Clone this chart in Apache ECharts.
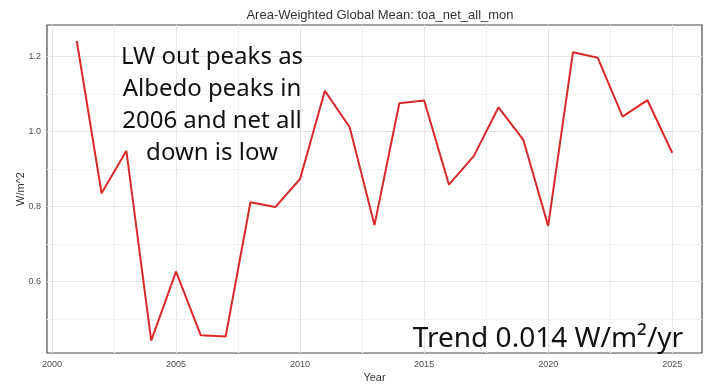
<!DOCTYPE html>
<html>
<head>
<meta charset="utf-8">
<script src="https://cdn.jsdelivr.net/npm/echarts@6/dist/echarts.min.js"></script>
<style>
html,body{margin:0;padding:0;background:#fff;}
#chart{width:705px;height:390px;}
</style>
</head>
<body>
<div id="chart"></div>
<script>
const years = [2001,2002,2003,2004,2005,2006,2007,2008,2009,2010,2011,2012,2013,2014,2015,2016,2017,2018,2019,2020,2021,2022,2023,2024,2025];
const values = [1.241,0.835,0.948,0.442,0.626,0.456,0.453,0.811,0.798,0.873,1.108,1.011,0.750,1.075,1.082,0.858,0.934,1.064,0.977,0.748,1.211,1.196,1.039,1.083,0.943];
const xTickLabels = [2000,2005,2010,2015,2020,2025];
const xMinorGrid = [2002.5,2007.5,2012.5,2017.5,2022.5];
const yTickLabels = [0.6,0.8,1.0,1.2];
const yMinorGrid = [0.5,0.7,0.9,1.1];

const chart = echarts.init(document.getElementById('chart'), null, {renderer:'canvas'});
const FONT = '"Liberation Sans", Arial, sans-serif';

const gridLines = [];
xTickLabels.forEach(v => gridLines.push({xAxis: v, lineStyle:{color:'#e6e6e6', width:1, type:'solid'}}));
xMinorGrid.forEach(v => gridLines.push({xAxis: v, lineStyle:{color:'#f1f1f1', width:1, type:'solid'}}));
yTickLabels.forEach(v => gridLines.push({yAxis: v, lineStyle:{color:'#e6e6e6', width:1, type:'solid'}}));
yMinorGrid.forEach(v => gridLines.push({yAxis: v, lineStyle:{color:'#f1f1f1', width:1, type:'solid'}}));

chart.setOption({
  animation:false,
  backgroundColor:'#ffffff',
  title:{
    text:'Area-Weighted Global Mean: toa_net_all_mon',
    left:375, top:4, textAlign:'center',
    textStyle:{fontFamily:FONT, fontSize:13, fontWeight:'normal', color:'#333333'}
  },
  grid:{left:47, right:3, top:25, bottom:37, show:true, outerBoundsMode:'none', containLabel:false, borderColor:'#4a4a4a', borderWidth:1.2, backgroundColor:'transparent'},
  xAxis:{
    type:'value', min:1999.8, max:2026.2,
    name:'Year', nameLocation:'middle', nameGap:19, nameMoveOverlap:false,
    nameTextStyle:{fontFamily:FONT, fontSize:11, color:'#333333'},
    axisLine:{show:false}, axisTick:{show:false}, splitLine:{show:false},
    axisLabel:{customValues:xTickLabels, fontFamily:FONT, fontSize:9, color:'#4d4d4d', margin:7, formatter: v => String(Math.round(v))}
  },
  yAxis:{
    type:'value', min:0.409, max:1.2835,
    name:'W/m^2', nameLocation:'middle', nameGap:21, nameRotate:90, nameMoveOverlap:false,
    nameTextStyle:{fontFamily:FONT, fontSize:11, color:'#333333'},
    axisLine:{show:false}, axisTick:{show:false}, splitLine:{show:false},
    axisLabel:{customValues:yTickLabels, fontFamily:FONT, fontSize:9, color:'#4d4d4d', margin:6, formatter: v => v.toFixed(1)}
  },
  series:[
    {
      type:'line', z:1, data:[], silent:true,
      markLine:{silent:true, symbol:['none','none'], label:{show:false}, data:gridLines, animation:false}
    },
    {
      type:'line', z:5,
      data: years.map((y,i)=>[y, values[i]]),
      symbol:'none', smooth:false,
      lineStyle:{color:'#d9292b', width:2},
      itemStyle:{color:'#d9292b'}
    }
  ],
  graphic:[
    {
      type:'text', z:10,
      style:{
        text:'LW out peaks as\nAlbedo peaks in\n2006 and net all\ndown is low',
        x:212, y:41, textAlign:'center', textVerticalAlign:'top',
        font:'24px "Noto Sans", sans-serif', lineHeight:32, fill:'#111111'
      }
    },
    {
      type:'text', z:10,
      style:{
        text:'Trend 0.014 W/m²/yr',
        x:548, y:339, textAlign:'center', textVerticalAlign:'middle',
        font:'28px "Noto Sans", sans-serif', fill:'#111111'
      }
    }
  ]
});
</script>
</body>
</html>
